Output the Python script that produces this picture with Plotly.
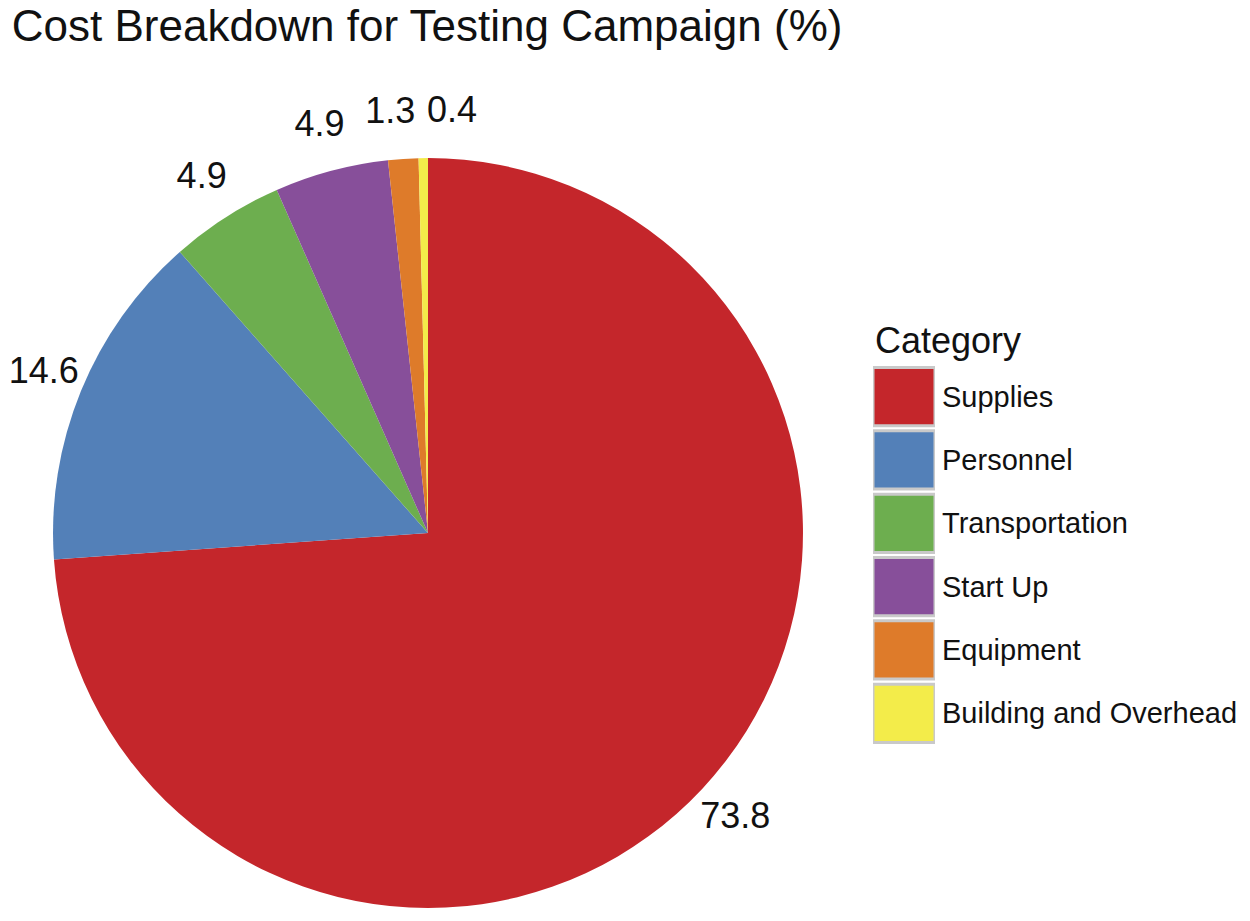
import math
import plotly.graph_objects as go

categories = ["Supplies", "Personnel", "Transportation", "Start Up",
              "Equipment", "Building and Overhead"]
shares = [73.8, 14.6, 4.9, 4.9, 1.3, 0.4]
slice_colors = ["#C4262B", "#5380B8", "#6DAE4F", "#874F9A", "#DE7B2A", "#F3EC4A"]

# small horizontal nudges so the tiny top slices' labels don't collide
label_nudge = [0, 0.012, 0, 0, -0.027, 0.078]
label_radius = 1.12

font_family = "Liberation Sans, Arial, sans-serif"
ink = "#111111"

pie_x = [0.036, 0.636]
pie_y = [0.0228, 0.8371]

fig = go.Figure()

fig.add_trace(go.Pie(
    labels=categories,
    values=shares,
    textinfo="none",
    marker=dict(colors=slice_colors, line=dict(width=0)),
    sort=False,
    direction="clockwise",
    rotation=0,
    domain=dict(x=pie_x, y=pie_y),
    showlegend=False,
    hoverinfo="label+value",
))

# value labels placed at each slice's mid angle, just outside the rim
total = sum(shares)
lx, ly = [], []
cum = 0
for v, dx in zip(shares, label_nudge):
    ang = 2 * math.pi * (cum + v / 2) / total
    lx.append(label_radius * math.sin(ang) + dx)
    ly.append(label_radius * math.cos(ang))
    cum += v

fig.add_trace(go.Scatter(
    x=lx, y=ly,
    mode="text",
    text=[f"{v:.1f}" for v in shares],
    textposition="middle center",
    textfont=dict(size=36, color=ink, family=font_family),
    cliponaxis=False,
    hoverinfo="skip",
    showlegend=False,
    xaxis="x", yaxis="y",
))

# legend drawn as a column of swatches
fig.add_trace(go.Bar(
    y=categories,
    x=[1 for _ in categories],
    orientation="h",
    marker=dict(color=slice_colors, line=dict(color="#C9C9C9", width=3)),
    hoverinfo="y",
    showlegend=False,
    xaxis="x2", yaxis="y2",
))

fig.update_layout(
    width=1250,
    height=921,
    margin=dict(l=0, r=0, t=0, b=0),
    paper_bgcolor="white",
    plot_bgcolor="white",
    font=dict(family=font_family, color=ink),
    title=dict(text="Cost Breakdown for Testing Campaign (%)",
               x=0.003, xanchor="left", y=0.998, yanchor="top",
               font=dict(size=44, color=ink)),
    # same scale as the pie: 1 unit = pie radius
    xaxis=dict(domain=[0.006, 0.696], range=[-1.1, 1.2], visible=False,
               fixedrange=True),
    yaxis=dict(domain=[0.0228, 0.9593], range=[-1.0, 1.3], visible=False,
               fixedrange=True),
    xaxis2=dict(domain=[0.692, 0.7416], range=[0, 1], visible=False,
                anchor="y2", fixedrange=True),
    yaxis2=dict(domain=[0.1998, 0.6124], anchor="x2", side="right",
                autorange="reversed", showgrid=False, zeroline=False,
                showline=False, ticks="", ticklabelstandoff=6,
                automargin=False,
                tickfont=dict(size=29, color=ink), fixedrange=True),
    bargap=0.08,
    annotations=[dict(text="Category", x=0.692, xanchor="left",
                      y=0.6395, yanchor="middle", xref="paper", yref="paper",
                      showarrow=False, font=dict(size=36, color=ink))],
)

fig.write_html("out.html")
